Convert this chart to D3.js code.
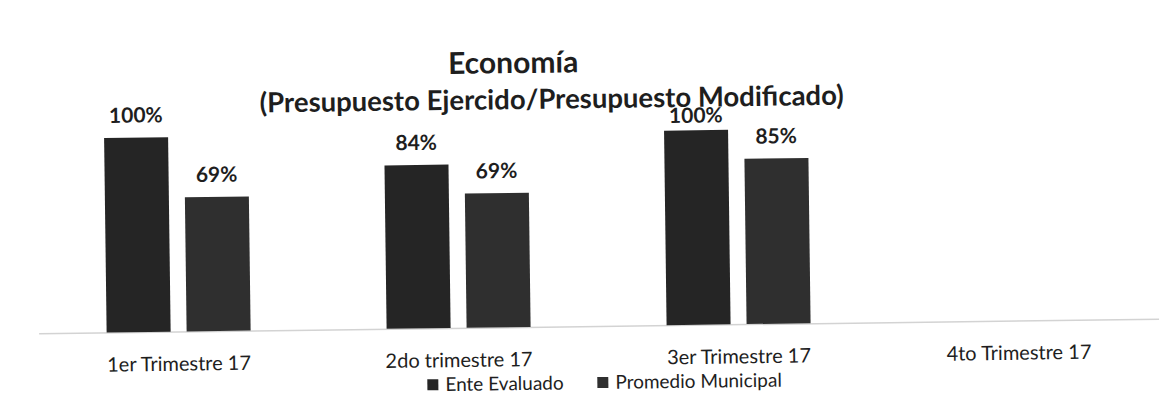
<!DOCTYPE html>
<html>
<head>
<meta charset="utf-8">
<script src="https://cdn.jsdelivr.net/npm/d3@7"></script>
<style>
  html, body { margin: 0; padding: 0; background: #fff; }
  svg { display: block; font-family: Lato, "Noto Sans", sans-serif; }
</style>
</head>
<body>
<svg id="chart" width="1175" height="408"></svg>
<script>
const categories = ["1er Trimestre 17", "2do trimestre 17", "3er Trimestre 17", "4to Trimestre 17"];
const seriesNames = ["Ente Evaluado", "Promedio Municipal"];
const enteEvaluado = [1.00, 0.84, 1.00, null];
const promedioMunicipal = [0.69, 0.69, 0.85, null];
const seriesColors = ["#252525", "#2f2f2f"];
const titleText = "Economía";
const subtitleText = "(Presupuesto Ejercido/Presupuesto Modificado)";

const svg = d3.select("#chart");
// slight tilt to mimic the scanned page
const g = svg.append("g").attr("transform", "rotate(-0.75, 600, 204)");

const x = d3.scaleBand().domain(categories).range([37, 1157]).padding(0);
const xs = d3.scaleBand().domain(seriesNames).range([0, 144]).paddingInner(0.2);
const y = d3.scaleLinear().domain([0, 1]).range([326, 131.5]);

const seriesData = [enteEvaluado, promedioMunicipal];
const rows = [];
categories.forEach((c, i) => {
  seriesNames.forEach((s, j) => {
    const v = seriesData[j][i];
    if (v != null) rows.push({ cat: c, series: s, value: v, j });
  });
});

const groupX = c => x(c) + x.bandwidth() / 2 - 72;

// axis line + category labels
const xAxis = d3.axisBottom(x).tickSize(0).tickPadding(25);
const axisG = g.append("g").attr("transform", `translate(0,${y(0)})`).call(xAxis);
axisG.select(".domain").attr("stroke", "#d3d3d3").attr("stroke-width", 1.5);
axisG.selectAll("text")
  .attr("font-family", "Lato, 'Noto Sans', sans-serif")
  .attr("font-size", 20)
  .attr("fill", "#1e1e1e");

// bars
g.selectAll("rect.bar").data(rows).join("rect")
  .attr("class", "bar")
  .attr("x", d => groupX(d.cat) + xs(d.series))
  .attr("width", xs.bandwidth())
  .attr("y", d => y(d.value))
  .attr("height", d => y(0) - y(d.value))
  .attr("fill", d => seriesColors[d.j]);

// titles
g.append("text").attr("x", 515).attr("y", 72)
  .attr("text-anchor", "middle").attr("font-size", 30).attr("font-weight", "bold")
  .attr("fill", "#1e1e1e").text(titleText);
const subtitleY = 108;
const sub = g.append("text").attr("x", 553).attr("y", subtitleY)
  .attr("text-anchor", "middle").attr("font-size", 27.5).attr("font-weight", "bold")
  .attr("fill", "#1e1e1e").text(subtitleText);
const sb = sub.node().getBBox();

// data labels (pushed down below the subtitle when they would collide, as in the original)
g.selectAll("text.lbl").data(rows).join("text")
  .attr("class", "lbl")
  .attr("x", d => groupX(d.cat) + xs(d.series) + xs.bandwidth() / 2)
  .attr("y", d => {
    const cx = groupX(d.cat) + xs(d.series) + xs.bandwidth() / 2;
    const base = y(d.value) - 15;
    const under = cx > sb.x - 30 && cx < sb.x + sb.width + 30;
    return under ? Math.max(base, subtitleY + 16) : base;
  })
  .attr("text-anchor", "middle")
  .attr("font-size", 21)
  .attr("font-weight", "bold")
  .attr("fill", "#1e1e1e")
  .text(d => d3.format(".0%")(d.value));

// legend
const legendX = [425, 595];
const leg = g.selectAll("g.leg").data(seriesNames).join("g")
  .attr("class", "leg")
  .attr("transform", (d, i) => `translate(${legendX[i]}, 389)`);
leg.append("rect").attr("x", 0).attr("y", -12).attr("width", 11).attr("height", 11)
  .attr("fill", (d, i) => seriesColors[i]);
leg.append("text").attr("x", 18).attr("y", 0)
  .attr("font-size", 19).attr("fill", "#1e1e1e").text(d => d);
</script>
</body>
</html>
